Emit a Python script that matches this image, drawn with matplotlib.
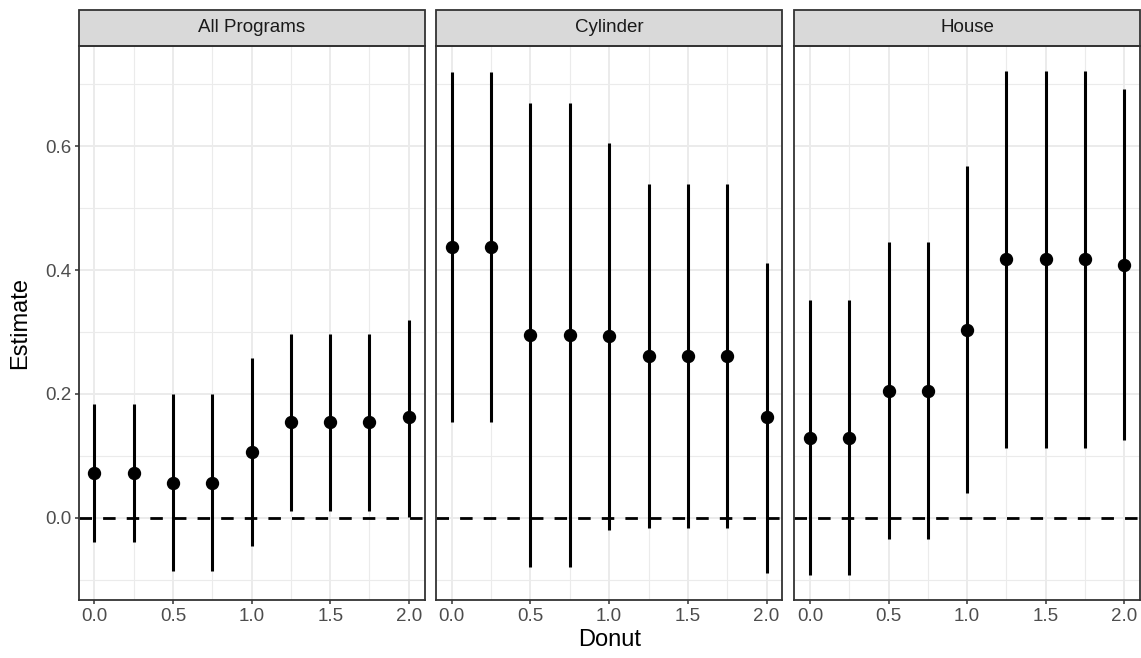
import matplotlib.pyplot as plt
from matplotlib.patches import Rectangle
from matplotlib.ticker import MultipleLocator

plt.rcParams['font.family'] = ['Liberation Sans', 'DejaVu Sans']

donut = [0.0, 0.25, 0.5, 0.75, 1.0, 1.25, 1.5, 1.75, 2.0]
panels = ["All Programs", "Cylinder", "House"]

all_est = [0.072, 0.072, 0.057, 0.057, 0.107, 0.155, 0.155, 0.155, 0.162]
all_low = [-0.039, -0.039, -0.086, -0.086, -0.045, 0.011, 0.011, 0.011, 0.002]
all_high = [0.183, 0.183, 0.200, 0.200, 0.258, 0.297, 0.297, 0.297, 0.320]

cyl_est = [0.437, 0.437, 0.296, 0.296, 0.294, 0.262, 0.262, 0.262, 0.162]
cyl_low = [0.154, 0.154, -0.079, -0.079, -0.019, -0.016, -0.016, -0.016, -0.089]
cyl_high = [0.720, 0.720, 0.670, 0.670, 0.606, 0.539, 0.539, 0.539, 0.411]

house_est = [0.129, 0.129, 0.205, 0.205, 0.304, 0.418, 0.418, 0.418, 0.409]
house_low = [-0.092, -0.092, -0.035, -0.035, 0.040, 0.112, 0.112, 0.112, 0.126]
house_high = [0.352, 0.352, 0.446, 0.446, 0.568, 0.722, 0.722, 0.722, 0.692]

est = [all_est, cyl_est, house_est]
low = [all_low, cyl_low, house_low]
high = [all_high, cyl_high, house_high]

W, H = 1141, 658
fig = plt.figure(figsize=(W / 100, H / 100), dpi=100)

# panel edges in pixels (left, right)
edges = [(78.7, 424.5), (436.0, 782.3), (794.3, 1139.7)]
top_px, bot_px, strip_px = 45.5, 600.0, 36.0

ymin = min(min(l) for l in low)
ymax = max(max(h) for h in high)
pad = (ymax - ymin) * 0.05

for i in range(3):
    x0, x1 = edges[i]
    ax = fig.add_axes([x0 / W, 1 - bot_px / H, (x1 - x0) / W, (bot_px - top_px) / H])
    ax.set_xlim(-0.1, 2.1)
    ax.set_ylim(ymin - pad, ymax + pad)
    ax.xaxis.set_major_locator(MultipleLocator(0.5))
    ax.xaxis.set_minor_locator(MultipleLocator(0.25))
    ax.yaxis.set_major_locator(MultipleLocator(0.2))
    ax.yaxis.set_minor_locator(MultipleLocator(0.1))
    ax.grid(which='major', color='#EBEBEB', linewidth=1.4)
    ax.grid(which='minor', color='#EBEBEB', linewidth=0.8)
    ax.set_axisbelow(True)
    ax.tick_params(which='minor', length=0)
    ax.tick_params(which='major', length=3, width=1.1, color='#333333',
                   labelsize=13.5, labelcolor='#4D4D4D', pad=2.5)
    ax.xaxis.set_major_formatter(plt.FuncFormatter(lambda v, p: '{:.1f}'.format(v)))
    ax.yaxis.set_major_formatter(plt.FuncFormatter(lambda v, p: '{:.1f}'.format(v)))
    if i > 0:
        ax.tick_params(axis='y', left=False, labelleft=False)
    for s in ax.spines.values():
        s.set_color('#333333')
        s.set_linewidth(1.3)

    ax.axhline(0, color='black', linewidth=2.0, dashes=(4.5, 4.0), zorder=2)
    ax.vlines(donut, low[i], high[i], color='black', linewidth=2.2, zorder=3)
    ax.plot(donut, est[i], 'o', color='black', markersize=8.6, zorder=4)

    # facet strip
    sh = strip_px / (bot_px - top_px)
    ax.add_patch(Rectangle((0, 1), 1, sh, transform=ax.transAxes, clip_on=False,
                           facecolor='#D9D9D9', edgecolor='#333333', linewidth=1.3))
    ax.text(0.5, 1 + sh / 2, panels[i], transform=ax.transAxes, ha='center', va='center',
            fontsize=13.5, color='#1A1A1A')

fig.text((edges[0][0] + edges[2][1]) / 2 / W, 1 - 640 / H, 'Donut', ha='center', va='center',
         fontsize=17, color='black')
fig.text(20 / W, 1 - (top_px + bot_px) / 2 / H, 'Estimate', ha='center', va='center',
         rotation=90, fontsize=17, color='black')

fig.savefig('out.png', dpi=100)
